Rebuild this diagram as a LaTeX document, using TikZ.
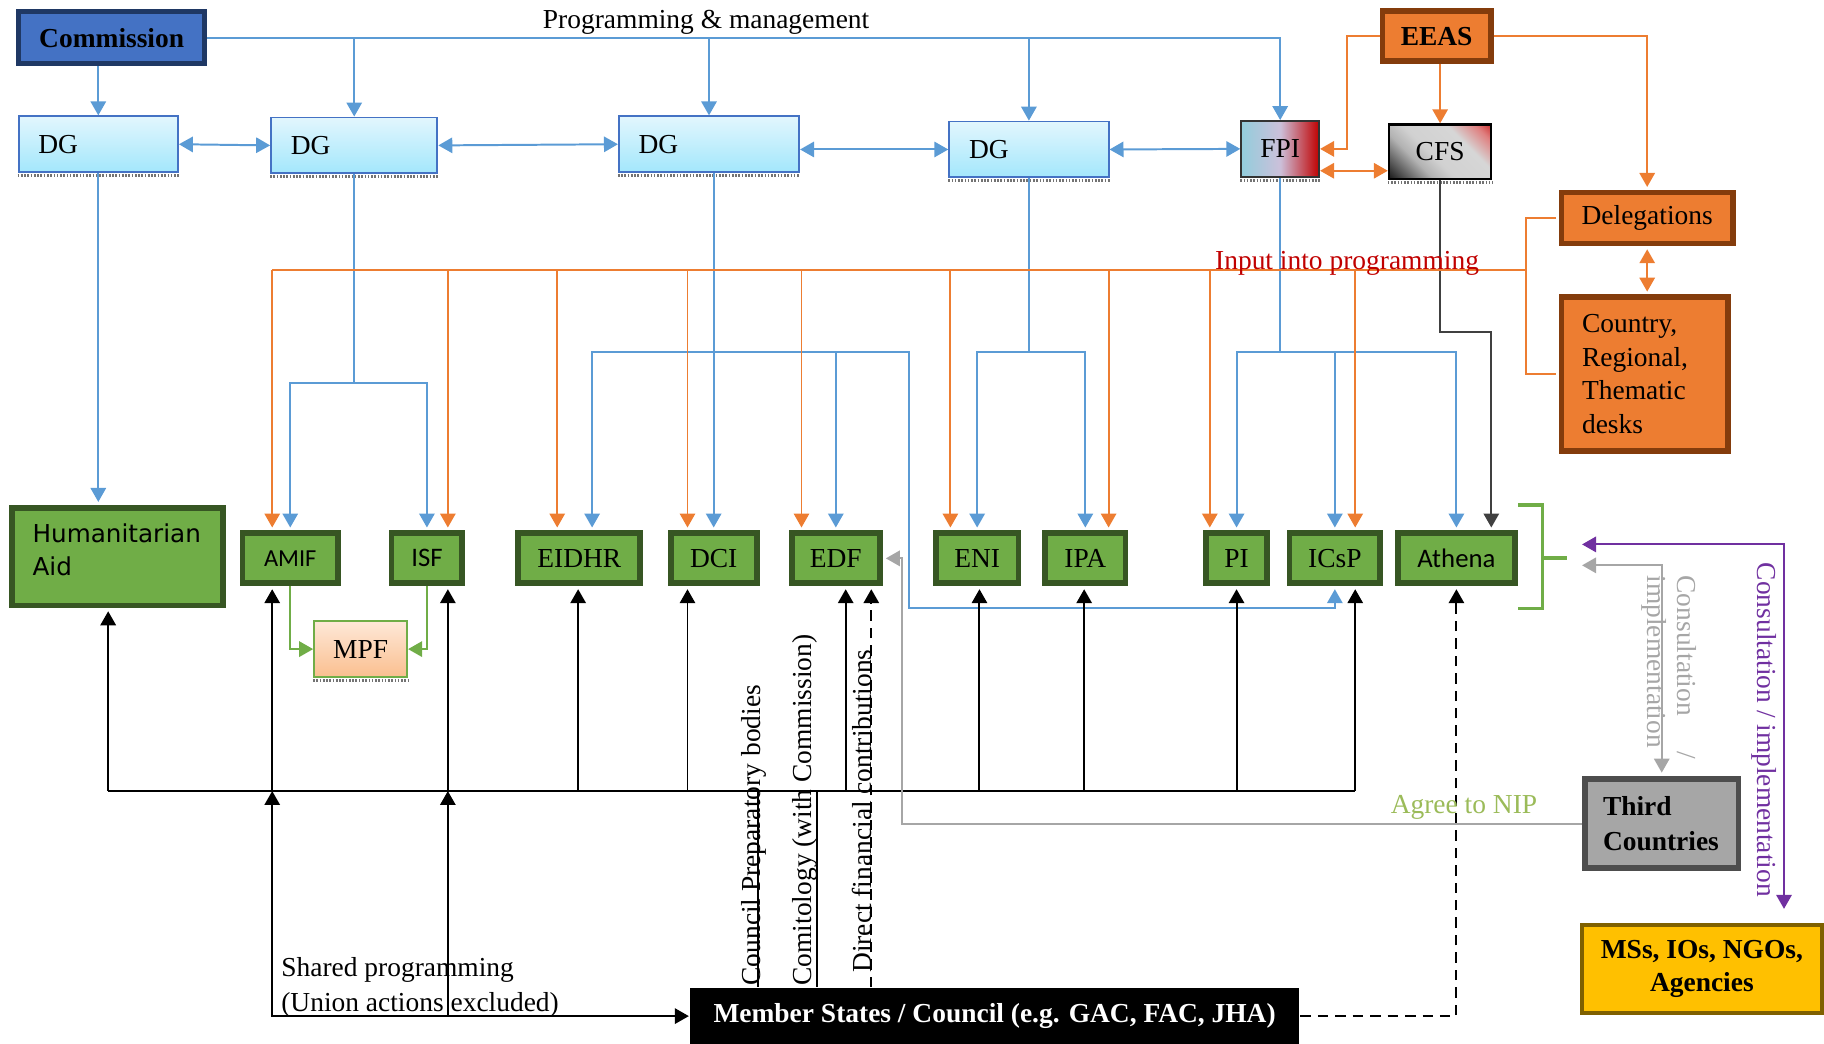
\documentclass[tikz,border=0pt]{standalone}
\usepackage{fontspec}
\setmainfont{Liberation Serif}
\newfontfamily\calib{Carlito}
\newfontfamily\dejavu{DejaVu Sans}
\usetikzlibrary{arrows.meta, calc}
\definecolor{comb}{HTML}{4472C4}
\definecolor{comd}{HTML}{1F3864}
\definecolor{linb}{HTML}{5B9BD5}
\definecolor{orng}{HTML}{ED7D31}
\definecolor{orngd}{HTML}{843C0C}
\definecolor{grn}{HTML}{70AD47}
\definecolor{grnd}{HTML}{375623}
\definecolor{dgtop}{HTML}{E2F6FD}
\definecolor{dgbot}{HTML}{A3E7FC}
\definecolor{fpib}{HTML}{92CDDC}
\definecolor{fpim}{HTML}{CCC0DA}
\definecolor{redc}{HTML}{C00000}
\definecolor{purc}{HTML}{7030A0}
\definecolor{gryl}{HTML}{A6A6A6}
\definecolor{gryd}{HTML}{4D4D4D}
\definecolor{nipc}{HTML}{9BBB59}
\definecolor{msy}{HTML}{FFC000}
\definecolor{msyd}{HTML}{7F6000}
\definecolor{mpft}{HTML}{FEE8D8}
\definecolor{mpfb}{HTML}{FABF8F}
\newcommand{\figfont}{\fontsize{11.8}{14.2}\selectfont}
\pgfdeclarehorizontalshading{cfsshade}{100bp}{color(0bp)=(black); color(15bp)=(black!90);
  color(35bp)=(black!30); color(45bp)=(black!18); color(65bp)=(black!16);
  color(78bp)=(redc!50); color(90bp)=(redc); color(100bp)=(redc)}
\newcommand{\dgbox}[3]{%
  \node[dg, minimum width=#3] (#1) at #2 {\makebox[#3][l]{\hspace{8.5pt}DG}};
}
\newcommand{\prog}[4]{%
  \node[prog, minimum width=#3] (#1) at #2 {#4};
}

\begin{document}
\begin{tikzpicture}[x=0.5pt, y=-0.5pt, >={Triangle[length=6pt, width=6.6pt]},
    line width=0.85pt, font=\figfont,
    blu/.style={draw=linb}, org/.style={draw=orng}, blk/.style={draw=black},
    dk/.style={draw=black!75}, gry/.style={draw=gryl}, pur/.style={draw=purc},
    into/.style={shorten >=1.25pt},
    dashln/.style={dash pattern=on 4.5pt off 3pt},
    dg/.style={draw=comb, line width=0.8pt, top color=dgtop, bottom color=dgbot,
               minimum height=24pt, inner sep=0pt},
    prog/.style={draw=grnd, fill=grn, line width=2.5pt, minimum height=21.5pt,
                 inner sep=0pt},
    orbox/.style={draw=orngd, fill=orng, line width=2.4pt, inner sep=0pt},
    wavy/.style={draw=black!55, line width=1.3pt, dash pattern=on 0.7pt off 0.7pt},
    lab/.style={inner sep=0pt}]
  \useasboundingbox (0,0) rectangle (1568,897);

  % top row
  \node[draw=comd, fill=comb, line width=2.2pt, minimum width=80pt,
        minimum height=22.3pt, inner sep=0pt, font=\figfont\bfseries]
        (comm) at (96,32.5) {Commission};
  \dgbox{dg1}{(84.5,124)}{68.5pt}
  \dgbox{dg2}{(304.5,125)}{71.5pt}
  \dgbox{dg3}{(609.5,124)}{77.5pt}
  \dgbox{dg4}{(884.5,128.5)}{68.5pt}
  \node[draw=black!80, line width=0.8pt, left color=fpib, right color=redc,
        middle color=fpim, minimum width=33.5pt, minimum height=24pt,
        inner sep=0pt] (fpi) at (1100.5,128) {FPI};
  \node[draw=black, line width=1pt, shade, shading=cfsshade, shading angle=45,
        minimum width=44pt, minimum height=23.5pt, inner sep=0pt]
        (cfs) at (1238,130.5) {CFS};
  \node[orbox, minimum width=46.5pt, minimum height=21.5pt,
        font=\figfont\bfseries] (eeas) at (1235,31) {EEAS};
  \node[orbox, minimum width=73.5pt, minimum height=22pt] (del) at (1416,187.5)
        {Delegations};
  \node[orbox, minimum width=71.5pt, minimum height=66pt, text width=54pt,
        align=left, font=\fontsize{11.8}{14.35}\selectfont]
        (desk) at (1414,321.5) {Country,\\Regional,\\Thematic\\desks};
  \foreach \b in {dg1,dg2,dg3,dg4,fpi,cfs}
    \draw[wavy] ([yshift=-1.1pt]\b.south west) -- ([yshift=-1.1pt]\b.south east);

  % instruments
  \node[prog, minimum width=90.5pt, minimum height=42pt, text width=73pt,
        align=left, font=\dejavu\fontsize{10.6}{14.5}\selectfont]
        (ha) at (101,478.5) {Humanitarian\\Aid\\[-8.5pt]\mbox{}};
  \prog{amif}{(249.5,480)}{41pt}{\calib\fontsize{10.5}{12}\selectfont AMIF}
  \prog{isf}{(367,480)}{30.5pt}{\calib\fontsize{11.5}{12}\selectfont ISF}
  \prog{eidhr}{(498,480)}{52.5pt}{EIDHR}
  \prog{dci}{(613.5,480)}{37pt}{DCI}
  \prog{edf}{(718.5,480)}{38pt}{EDF}
  \prog{eni}{(840,480)}{35.5pt}{ENI}
  \prog{ipa}{(933,480)}{34.5pt}{IPA}
  \prog{pinstr}{(1063,480)}{26.5pt}{PI}
  \prog{icsp}{(1147.5,480)}{39pt}{ICsP}
  \prog{athena}{(1252,480)}{50.5pt}{\calib\fontsize{11.5}{12}\selectfont Athena}
  \node[draw=grn, line width=0.8pt, top color=mpft, bottom color=mpfb,
        minimum width=40pt, minimum height=24pt, inner sep=0pt]
        (mpf) at (310,558) {MPF};
  \draw[wavy] ([yshift=-1.1pt]mpf.south west) -- ([yshift=-1.1pt]mpf.south east);

  % outside actors
  \node[draw=gryd, fill=gryl, line width=2.5pt, minimum width=66pt,
        minimum height=38.5pt, text width=50.5pt, align=left, inner sep=0pt,
        font=\fontsize{11.8}{15}\selectfont\bfseries]
        (tc) at (1428.5,708) {Third\\Countries};
  \node[draw=msyd, fill=msy, line width=1.7pt, minimum width=103pt,
        minimum height=38pt, align=center, inner sep=0pt,
        font=\fontsize{11.8}{14}\selectfont\bfseries]
        (mss) at (1463,833) {MSs, IOs, NGOs,\\Agencies};
  \node[fill=black, text=white, minimum width=262pt, minimum height=24pt,
        inner sep=0pt, font=\figfont\bfseries]
        (ms) at (855,873.5) {Member States / Council (e.g. GAC, FAC, JHA)};

  % programming & management
  \draw[blu,->] (comm.east) -| (fpi.north);
  \foreach \d in {dg2,dg3,dg4} \draw[blu,->] (\d.north |- comm.east) -- (\d.north);
  \draw[blu,->] (dg1.north |- comm.south) -- (dg1.north);
  \draw[blu,<->] (dg1.east) -- (dg2.west);
  \draw[blu,<->] (dg2.east) -- (dg3.west);
  \draw[blu,<->] (dg3.east |- dg4.west) -- (dg4.west);
  \draw[blu,<->] (dg4.east) -- (fpi.west);
  \draw[blu,->,into] (dg1.south) -- (dg1.south |- ha.north);
  \coordinate (b2) at (dg2.south |- 0,329);
  \draw[blu] (dg2.south) -- (b2);
  \draw[blu,->,into] (b2) -| (amif.north);
  \draw[blu,->,into] (b2) -| (isf.north);
  \coordinate (b3) at (dci.north |- 0,303);
  \coordinate (e-eidhr) at ($(eidhr.north)+(11,0)$);
  \coordinate (lp) at (781,523);
  \draw[blu,->,into] (dg3.south -| dci.north) -- (dci.north);
  \draw[blu,->,into] (b3) -| (e-eidhr);
  \draw[blu,->,into] (b3) -| (edf.north);
  \draw[blu,->,into] (b3) -| (lp) -| (icsp.south);
  \coordinate (b4) at (dg4.south |- 0,303);
  \draw[blu] (dg4.south) -- (b4);
  \draw[blu,->,into] (b4) -| (eni.north);
  \draw[blu,->,into] (b4) -| (ipa.north);
  \coordinate (b5) at (fpi.south |- 0,303);
  \draw[blu] (fpi.south) -- (b5);
  \draw[blu,->,into] (b5) -| (pinstr.north);
  \draw[blu,->,into] (b5) -| (athena.north);
  \draw[blu,->,into] (icsp.north |- b5) -- (icsp.north);
  \coordinate (c-ath) at ($(athena.north)+(30,0)$);
  \draw[dk,->,into] (cfs.south) -- (cfs.south |- 0,285) -| (c-ath);
  \node[lab] (pmlab) at (607,19) {Programming \& management};

  % EEAS and input into programming
  \draw[org,->] (eeas.west) -- ++(-28,0) |- (fpi.east);
  \draw[org,->] (eeas.south -| cfs.north) -- (cfs.north);
  \draw[org,->,shorten >=1.2pt] (eeas.east) -| (del.north);
  \coordinate (fc) at ($(fpi.south east)+(0,-6)$);
  \draw[org,<->] (fc) -- (fc -| cfs.west);
  \draw[org,<->,shorten <=1.2pt,shorten >=1.2pt] (del.south) -- (del.south |- desk.north);
  \coordinate (ip) at (1312,232);
  \foreach \n/\o in {amif/-15.5, isf/18, eidhr/-19, dci/-22.5, edf/-29.5,
                     eni/-23, ipa/20, pinstr/-23, icsp/17.5} {
    \coordinate (o-\n) at ($(\n.north)+(\o,0)$);
    \draw[org,->,into] (o-\n |- ip) -- (o-\n);
  }
  \draw[org,shorten <=1.2pt,shorten >=1.2pt] (del.west) -| (ip) |- (desk.west);
  \draw[org] (ip) -- (o-amif |- ip);
  \node[lab, anchor=base, text=redc] (inlab) at (1158,232) {Input into programming};

  % member states
  \coordinate (bus) at (0,680);
  \foreach \n/\o in {ha/-8, amif/-15.5, isf/18, eidhr/-1, dci/-22.5, edf/8.5,
                     eni/2, ipa/-1, pinstr/0, icsp/17.5} {
    \coordinate (u-\n) at ($(\n.south)+(\o,0)$);
    \draw[blk,->,into] (u-\n |- bus) -- (u-\n);
  }
  \draw[blk] (u-ha |- bus) -- (u-icsp |- bus);
  \draw[blk,<->] (u-amif |- bus) -- (u-amif |- ms.west) -- (ms.west);
  \draw[blk,->] (u-isf |- ms.west) -- (u-isf |- bus);
  \coordinate (cpb) at (652,680);
  \coordinate (cmt) at (702,680);
  \coordinate (dfc) at ($(edf.south)+(30.5,0)$);
  \draw[blk] (cpb) -- (cpb |- ms.north);
  \draw[blk] (cmt) -- (cmt |- ms.north);
  \draw[blk,dashln,->,into] (dfc |- ms.north) -- (dfc);
  \draw[blk,dashln,->,into] (ms.east) -| (athena.south);
  \node[lab, rotate=90, anchor=base west] (cpblab) at (654,848) {Council Preparatory bodies};
  \node[lab, rotate=90, anchor=base west] (cmtlab) at (698,848) {Comitology (with Commission)};
  \node[lab, rotate=90, anchor=base west] (dfclab) at (749,837) {Direct financial contributions};
  \node[lab, anchor=north west, align=left, font=\fontsize{11.8}{15}\selectfont]
        (shlab) at (241,822) {Shared programming\\(Union actions excluded)};

  % MPF
  \draw[grn,->] (amif.south) |- (mpf.west);
  \draw[grn,->] (isf.south) |- (mpf.east);

  % third countries and others
  \draw[grn, line width=1.5pt] (1305,434) -- (1326,434) -- (1326,523) -- (1305,523)
        (1326,479.5) -- (1347,479.5);
  \coordinate (cs1) at (1360,468);
  \coordinate (cs2) at (1360,486);
  \draw[pur,<->] (cs1) -| ([xshift=35.3pt,yshift=6pt]mss.north);
  \draw[gry,<->,shorten >=1.4pt] (cs2) -| (tc.north);
  \draw[gry,->,into] (tc.west) -- (tc.west -| 775,0) |- (edf.east);
  \node[lab, text=nipc] (niplab) at (1258.5,694) {Agree to NIP};
  \node[lab, rotate=-90, anchor=base west, text=purc] (pclab) at (1511,483)
        {Consultation / implementation};
  \node[lab, rotate=-90, anchor=north west, align=left, text width=79pt, text=gryl,
        font=\fontsize{11.8}{12.8}\selectfont] (gclab) at (1459,494)
        {Consultation\hfill/\\implementation};
\end{tikzpicture}
\end{document}
